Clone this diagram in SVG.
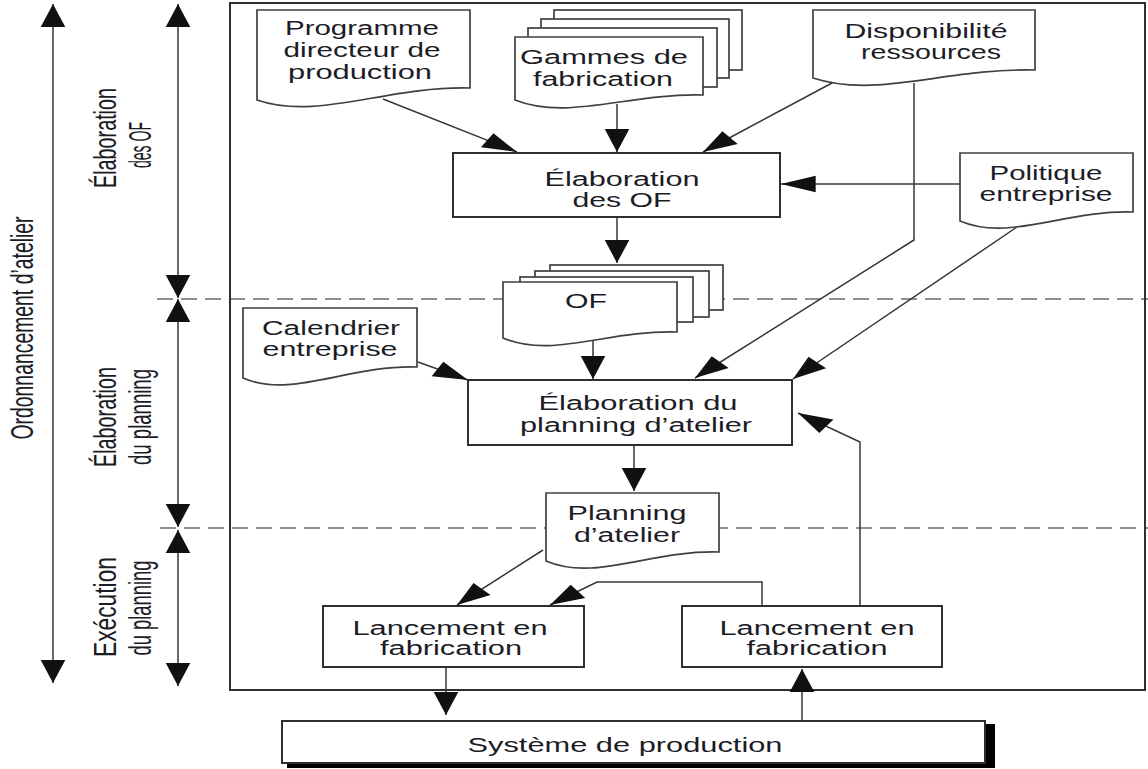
<svg xmlns="http://www.w3.org/2000/svg" width="1148" height="769" viewBox="0 0 1148 769">
  <defs>
    <style>
      .lbl { font-family: "Liberation Sans", Arial, sans-serif; font-size: 19.5px; fill: #1c1c26; text-anchor: middle; }
      .side { font-family: "Liberation Sans", Arial, sans-serif; font-size: 21px; fill: #1c1c26; text-anchor: middle; }
      .box { fill: #fff; stroke: #2e2e2e; stroke-width: 2; }
      .doc { fill: #fff; stroke: #404040; stroke-width: 1.7; }
      .frame { fill: none; stroke: #2e2e2e; stroke-width: 2; }
      .guide { fill: none; stroke: #6a6a6a; stroke-width: 1.5; stroke-dasharray: 16 8; }
      .conn path { fill: none; stroke: #363636; stroke-width: 1.5; vector-effect: non-scaling-stroke; marker-end: url(#head); }
      .conn path.both { marker-start: url(#head); }
    </style>
    <!-- filled arrowhead, defined in the connector layer's (stretched) user space -->
    <marker id="head" markerUnits="userSpaceOnUse" markerWidth="26" markerHeight="20" viewBox="-25 -10 27 20" refX="0" refY="0" orient="auto-start-reverse">
      <path d="M0,0 L-24,-8.5 L-24,8.5 Z" fill="#111"/>
    </marker>
  </defs>

  <rect width="1148" height="769" fill="#fff"/>

  <!-- phase separators -->
  <g id="separators">
    <line class="guide" x1="157" y1="299" x2="1148" y2="299"/>
    <line class="guide" x1="160" y1="528" x2="1148" y2="528"/>
  </g>

  <!-- workshop boundary -->
  <rect id="workshop" class="frame" x="230" y="3" width="915" height="687"/>

  <!-- phase labels on the left -->
  <g id="phase-labels">
    <text class="side" transform="translate(33,328) scale(1.5,1) rotate(-90)" textLength="223" lengthAdjust="spacingAndGlyphs">Ordonnancement d’atelier</text>
    <text class="side" transform="translate(116,138) scale(1.5,1) rotate(-90)" textLength="100" lengthAdjust="spacingAndGlyphs">Élaboration</text>
    <text class="side" transform="translate(151,145) scale(1.5,1) rotate(-90)" textLength="46" lengthAdjust="spacingAndGlyphs">des OF</text>
    <text class="side" transform="translate(116,417) scale(1.5,1) rotate(-90)" textLength="100" lengthAdjust="spacingAndGlyphs">Élaboration</text>
    <text class="side" transform="translate(151,417) scale(1.5,1) rotate(-90)" textLength="96" lengthAdjust="spacingAndGlyphs">du planning</text>
    <text class="side" transform="translate(116,607) scale(1.5,1) rotate(-90)" textLength="100" lengthAdjust="spacingAndGlyphs">Exécution</text>
    <text class="side" transform="translate(151,608) scale(1.5,1) rotate(-90)" textLength="95" lengthAdjust="spacingAndGlyphs">du planning</text>
  </g>

  <!-- connectors: drawn in a horizontally stretched space (x × 1.5) -->
  <g id="connectors" class="conn" transform="scale(1.5,1)">
    <!-- phase extent arrows -->
    <path class="both" d="M35.33,4 V683"/>
    <path class="both" d="M118.67,4 V298"/>
    <path class="both" d="M118.67,299 V527"/>
    <path class="both" d="M118.67,530 V686"/>
    <!-- flow -->
    <path d="M255.33,99 L344.67,152"/>
    <path d="M411.33,104 V152"/>
    <path d="M554.67,83 L468.67,152"/>
    <path d="M640,184 H520.67"/>
    <path d="M411.33,217 V263"/>
    <path d="M395.33,338 V379"/>
    <path d="M278.67,362 L312,380"/>
    <path d="M609.33,83 V240 L463.33,378"/>
    <path d="M678,227 L528.67,379"/>
    <path d="M422.67,445 V491"/>
    <path d="M362,550 L304.67,605"/>
    <path d="M508,606 V582 H398 L366.67,605"/>
    <path d="M573.33,606 V442 L532,413"/>
    <path d="M297.33,667 V715"/>
    <path d="M534.67,721 V669"/>
  </g>

  <g id="programme-directeur">
    <path class="doc" d="M257,10 H470 V88 C385,86 318,121 257,100 Z"/>
    <text class="lbl" x="362" y="35" textLength="154" lengthAdjust="spacingAndGlyphs">Programme</text>
    <text class="lbl" x="362" y="57" textLength="157" lengthAdjust="spacingAndGlyphs">directeur de</text>
    <text class="lbl" x="360" y="79" textLength="144" lengthAdjust="spacingAndGlyphs">production</text>
  </g>

  <g id="gammes-fabrication">
    <rect class="doc" x="554" y="10" width="188" height="60"/>
    <rect class="doc" x="541" y="19" width="188" height="59"/>
    <rect class="doc" x="528" y="28" width="189" height="59"/>
    <path class="doc" d="M515,37 H703 V95 C628,93 568,121 515,100 Z"/>
    <text class="lbl" x="604" y="64" textLength="168" lengthAdjust="spacingAndGlyphs">Gammes de</text>
    <text class="lbl" x="603" y="86" textLength="140" lengthAdjust="spacingAndGlyphs">fabrication</text>
  </g>

  <g id="disponibilite-ressources">
    <path class="doc" d="M813,10 H1035 V70 C946,68 877,99 813,78 Z"/>
    <text class="lbl" x="926" y="38" textLength="163" lengthAdjust="spacingAndGlyphs">Disponibilité</text>
    <text class="lbl" x="931" y="59" textLength="140" lengthAdjust="spacingAndGlyphs">ressources</text>
  </g>

  <g id="elaboration-of">
    <rect class="box" x="453" y="153" width="327" height="64"/>
    <text class="lbl" x="622" y="186" textLength="155" lengthAdjust="spacingAndGlyphs">Élaboration</text>
    <text class="lbl" x="622" y="207" textLength="99" lengthAdjust="spacingAndGlyphs">des OF</text>
  </g>

  <g id="politique-entreprise">
    <path class="doc" d="M960,153 H1133 V212 C1064,210 1009,242 960,221 Z"/>
    <text class="lbl" x="1046" y="180" textLength="113" lengthAdjust="spacingAndGlyphs">Politique</text>
    <text class="lbl" x="1046" y="201" textLength="133" lengthAdjust="spacingAndGlyphs">entreprise</text>
  </g>

  <g id="of">
    <rect class="doc" x="550" y="265" width="173" height="45"/>
    <rect class="doc" x="535" y="271" width="174" height="46"/>
    <rect class="doc" x="520" y="277" width="173" height="45"/>
    <path class="doc" d="M503,282 H677 V332 C607,330 552,359 503,338 Z"/>
    <text class="lbl" x="586" y="308" textLength="42" lengthAdjust="spacingAndGlyphs">OF</text>
  </g>

  <g id="calendrier-entreprise">
    <path class="doc" d="M243,308 H417 V367 C347,365 292,399 243,378 Z"/>
    <text class="lbl" x="331" y="335" textLength="138" lengthAdjust="spacingAndGlyphs">Calendrier</text>
    <text class="lbl" x="330" y="356" textLength="135" lengthAdjust="spacingAndGlyphs">entreprise</text>
  </g>

  <g id="elaboration-planning">
    <rect class="box" x="468" y="380" width="324" height="65"/>
    <text class="lbl" x="638" y="410" textLength="199" lengthAdjust="spacingAndGlyphs">Élaboration du</text>
    <text class="lbl" x="636" y="432" textLength="232" lengthAdjust="spacingAndGlyphs">planning d’atelier</text>
  </g>

  <g id="planning-atelier">
    <path class="doc" d="M546,493 H719 V552 C650,550 595,582 546,561 Z"/>
    <text class="lbl" x="627" y="520" textLength="119" lengthAdjust="spacingAndGlyphs">Planning</text>
    <text class="lbl" x="627" y="542" textLength="106" lengthAdjust="spacingAndGlyphs">d’atelier</text>
  </g>

  <g id="lancement-1">
    <rect class="box" x="323" y="606" width="261" height="61"/>
    <text class="lbl" x="450" y="635" textLength="195" lengthAdjust="spacingAndGlyphs">Lancement en</text>
    <text class="lbl" x="451" y="655" textLength="142" lengthAdjust="spacingAndGlyphs">fabrication</text>
  </g>

  <g id="lancement-2">
    <rect class="box" x="682" y="606" width="260" height="61"/>
    <text class="lbl" x="817" y="635" textLength="195" lengthAdjust="spacingAndGlyphs">Lancement en</text>
    <text class="lbl" x="817" y="655" textLength="141" lengthAdjust="spacingAndGlyphs">fabrication</text>
  </g>

  <g id="systeme-production">
    <rect x="287" y="724" width="708" height="44" fill="#000"/>
    <rect class="box" x="282" y="721" width="703" height="42"/>
    <text class="lbl" x="625" y="752" textLength="315" lengthAdjust="spacingAndGlyphs">Système de production</text>
  </g>
</svg>
